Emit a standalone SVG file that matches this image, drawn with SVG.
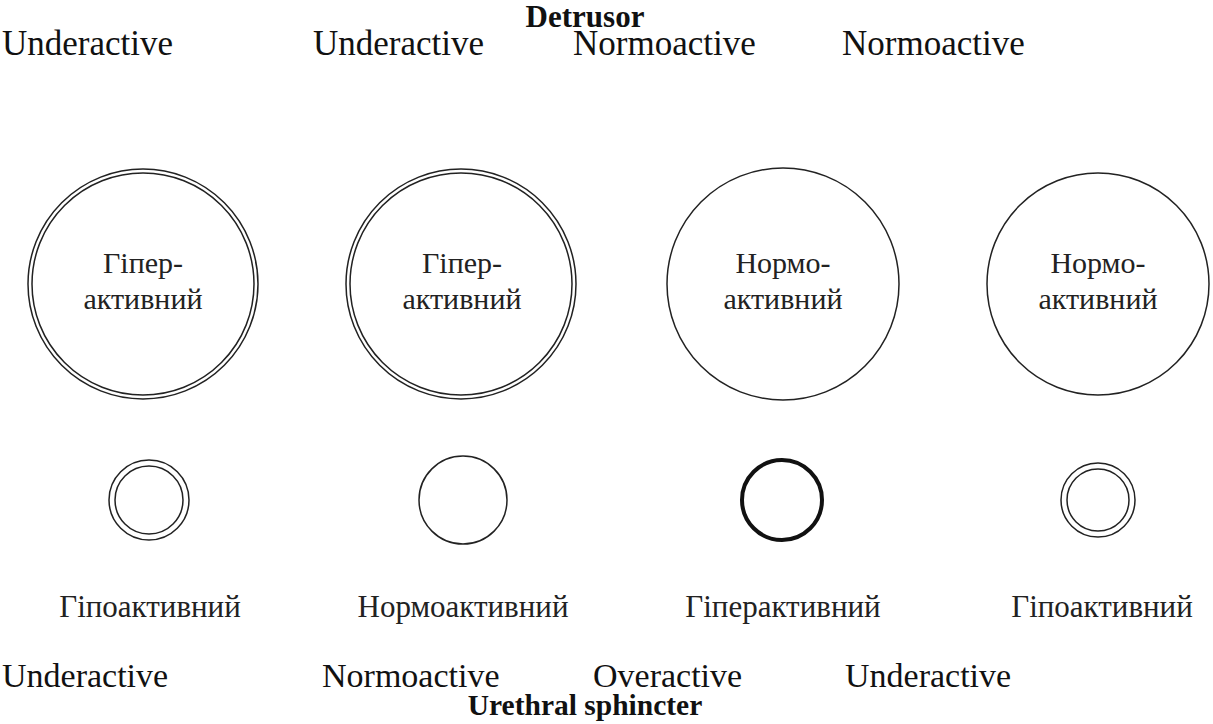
<svg xmlns="http://www.w3.org/2000/svg" width="1213" height="724" viewBox="0 0 1213 724">
<style>
.bg{fill:#fff}
.c{fill:none;stroke:#222;stroke-width:1.5}
.thick{fill:none;stroke:#111;stroke-width:4}
.lbl{font-family:"Liberation Serif","Times New Roman",serif;font-size:35px;fill:#111}
.lbl2{font-family:"Liberation Serif","Times New Roman",serif;font-size:34px;fill:#111}
.ttl{font-family:"Liberation Serif","Times New Roman",serif;font-weight:bold;fill:#111;text-anchor:middle}
.ua{font-family:"Liberation Serif","Times New Roman",serif;font-size:30px;fill:#222;text-anchor:middle}
.ub{font-family:"Liberation Serif","Times New Roman",serif;font-size:31px;fill:#222;text-anchor:middle}
</style>
<rect class="bg" x="0" y="0" width="1213" height="724"/>
<text class="ttl" x="585" y="27" font-size="31">Detrusor</text>
<text class="lbl" x="2" y="55">Underactive</text>
<text class="lbl" x="313" y="55">Underactive</text>
<text class="lbl" x="573" y="55">Normoactive</text>
<text class="lbl" x="842" y="55">Normoactive</text>

<g id="detrusor1">
<circle class="c" cx="143" cy="284" r="115"/>
<circle class="c" cx="143" cy="284" r="111"/>
<text class="ua" x="143" y="273">Гіпер-</text>
<text class="ua" x="143" y="309">активний</text>
</g>
<g id="detrusor2">
<circle class="c" cx="461" cy="284" r="115"/>
<circle class="c" cx="461" cy="284" r="111"/>
<text class="ua" x="462" y="273">Гіпер-</text>
<text class="ua" x="462" y="309">активний</text>
</g>
<g id="detrusor3">
<circle class="c" cx="783" cy="284" r="116"/>
<text class="ua" x="783" y="273">Нормо-</text>
<text class="ua" x="783" y="309">активний</text>
</g>
<g id="detrusor4">
<circle class="c" cx="1098" cy="284" r="111"/>
<text class="ua" x="1098" y="273">Нормо-</text>
<text class="ua" x="1098" y="309">активний</text>
</g>

<g id="sphincter1">
<circle class="c" cx="149" cy="500" r="40"/>
<circle class="c" cx="149" cy="500" r="34"/>
</g>
<g id="sphincter2">
<circle class="c" cx="463" cy="500" r="44"/>
</g>
<g id="sphincter3">
<circle class="thick" cx="782" cy="500" r="40"/>
</g>
<g id="sphincter4">
<circle class="c" cx="1098" cy="500" r="37"/>
<circle class="c" cx="1098" cy="500" r="31"/>
</g>
<g id="connectors"></g>

<text class="ub" x="150" y="617">Гіпоактивний</text>
<text class="ub" x="463" y="617">Нормоактивний</text>
<text class="ub" x="783" y="617">Гіперактивний</text>
<text class="ub" x="1102" y="617">Гіпоактивний</text>

<text class="lbl2" x="2" y="687">Underactive</text>
<text class="lbl2" x="322" y="687">Normoactive</text>
<text class="lbl2" x="593" y="687">Overactive</text>
<text class="lbl2" x="845" y="687">Underactive</text>
<text class="ttl" x="585" y="715" font-size="29.5">Urethral sphincter</text>
</svg>
